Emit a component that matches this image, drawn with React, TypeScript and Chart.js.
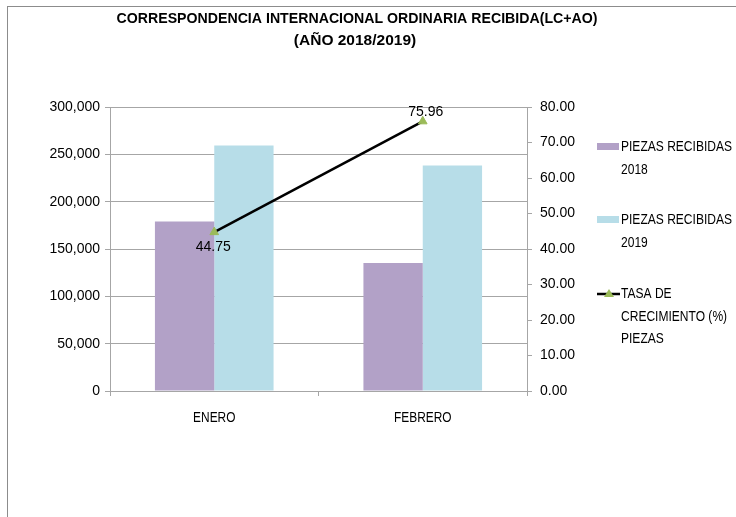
import React, { useEffect, useRef } from "react";
import { Chart, registerables } from "chart.js";

Chart.register(...registerables);

const categories = ["ENERO", "FEBRERO"];
const piezas2018 = [179100, 135300];
const piezas2019 = [259250, 238080];
const tasaCrecimiento = [44.75, 75.96];
const titleLines = ["CORRESPONDENCIA INTERNACIONAL ORDINARIA RECIBIDA(LC+AO)", "(AÑO 2018/2019)"];
const legendLabels = [
  ["PIEZAS RECIBIDAS", "2018"],
  ["PIEZAS RECIBIDAS", "2019"],
  ["TASA DE", "CRECIMIENTO (%)", "PIEZAS"],
];

const PURPLE = "#b2a1c7";
const BLUE = "#b7dde8";
const GREEN = "#9bbb59";
const GRID = "#a6a6a6";
const SANS = '"Liberation Sans", Arial, sans-serif';

function condensed(ctx: CanvasRenderingContext2D, text: string, x: number, y: number, factor: number) {
  const w = ctx.measureText(text).width;
  ctx.fillText(text, x, y, w * factor);
}

const overlayPlugin = {
  id: "overlay",
  afterDraw(chart: any) {
    const ctx = chart.ctx as CanvasRenderingContext2D;
    ctx.save();
    // title
    ctx.fillStyle = "#000";
    ctx.textAlign = "center";
    ctx.textBaseline = "middle";
    ctx.font = `bold 15.5px ${SANS}`;
    ctx.fillText(titleLines[0], 357, 19, 481);
    condensed(ctx, titleLines[1], 355, 41, 1.04);

    // category labels
    const xs = chart.scales.x;
    ctx.font = `14.5px ${SANS}`;
    categories.forEach((c, i) => {
      condensed(ctx, c, xs.getPixelForValue(i), 418, 0.82);
    });

    // legend
    ctx.textAlign = "left";
    ctx.font = `14.5px ${SANS}`;
    const tops = [147, 220, 294];
    legendLabels.forEach((lines, i) => {
      const y = tops[i];
      if (i < 2) {
        ctx.fillStyle = i === 0 ? PURPLE : BLUE;
        ctx.fillRect(597, y - 4, 22, 7);
      } else {
        ctx.strokeStyle = "#000";
        ctx.lineWidth = 2.5;
        ctx.beginPath();
        ctx.moveTo(597, y);
        ctx.lineTo(620, y);
        ctx.stroke();
        ctx.fillStyle = GREEN;
        ctx.beginPath();
        ctx.moveTo(609, y - 5);
        ctx.lineTo(614, y + 3);
        ctx.lineTo(604, y + 3);
        ctx.closePath();
        ctx.fill();
      }
      ctx.fillStyle = "#000";
      lines.forEach((t, j) => condensed(ctx, t, 621, y + j * 22.5, 0.83));
    });

    // data labels
    const meta = chart.getDatasetMeta(0);
    ctx.font = `14px ${SANS}`;
    ctx.textAlign = "center";
    meta.data.forEach((pt: any, i: number) => {
      const v = tasaCrecimiento[i].toFixed(2);
      if (i === 0) ctx.fillText(v, pt.x - 1, pt.y + 15);
      else ctx.fillText(v, pt.x + 3, pt.y - 9);
    });
    ctx.restore();
  },
};

export default function App() {
  const ref = useRef<HTMLCanvasElement>(null);
  useEffect(() => {
    if (!ref.current) return;
    const chart = new Chart(ref.current, {
      type: "bar",
      data: {
        labels: categories,
        datasets: [
          {
            type: "line",
            label: "TASA DE CRECIMIENTO (%) PIEZAS",
            data: tasaCrecimiento,
            yAxisID: "y1",
            borderColor: "#000",
            borderWidth: 2.5,
            pointStyle: "triangle",
            pointRadius: 5,
            pointBackgroundColor: GREEN,
            pointBorderColor: GREEN,
            pointBorderWidth: 1,
            order: 0,
          } as any,
          {
            label: "PIEZAS RECIBIDAS 2018",
            data: piezas2018,
            backgroundColor: PURPLE,
            yAxisID: "y",
            order: 1,
            categoryPercentage: 0.569,
            barPercentage: 1,
          },
          {
            label: "PIEZAS RECIBIDAS 2019",
            data: piezas2019,
            backgroundColor: BLUE,
            yAxisID: "y",
            order: 1,
            categoryPercentage: 0.569,
            barPercentage: 1,
          },
        ],
      },
      options: {
        responsive: false,
        animation: false,
        layout: { padding: { top: 107, right: 149, bottom: 86, left: 0 } },
        plugins: { legend: { display: false }, title: { display: false }, tooltip: { enabled: false } },
        scales: {
          x: {
            grid: { display: true, drawOnChartArea: false, drawTicks: true, offset: true, tickLength: 5, color: GRID },
            border: { display: true, color: GRID },
            ticks: { display: false },
            afterFit: (s: any) => { s.height = 40; },
          },
          y: {
            position: "left",
            min: 0,
            max: 300000,
            ticks: {
              stepSize: 50000,
              color: "#000",
              font: { family: SANS, size: 14 },
              padding: 5,
              callback: (v: any) => Number(v).toLocaleString("en-US"),
            },
            grid: { color: GRID, tickLength: 5 },
            border: { display: true, color: GRID },
            afterFit: (s: any) => { s.width = 110; },
          },
          y1: {
            position: "right",
            min: 0,
            max: 80,
            ticks: {
              stepSize: 10,
              color: "#000",
              font: { family: SANS, size: 14 },
              padding: 8,
              callback: (v: any) => Number(v).toFixed(2),
            },
            grid: { drawOnChartArea: false, color: GRID, tickLength: 5 },
            border: { display: true, color: GRID },
            afterFit: (s: any) => { s.width = 60; },
          },
        },
      },
      plugins: [overlayPlugin],
    });
    return () => chart.destroy();
  }, []);

  return (
    <div style={{ position: "fixed", left: 0, top: 0, width: 736, height: 517, overflow: "hidden", background: "#fff" }}>
      <div style={{ position: "absolute", left: 7, top: 6, width: 900, height: 700, borderTop: "1px solid #8c8c8c", borderLeft: "1px solid #8c8c8c" }} />
      <canvas ref={ref} width={736} height={517} style={{ position: "absolute", left: 0, top: 0, width: 736, height: 517 }} />
    </div>
  );
}
